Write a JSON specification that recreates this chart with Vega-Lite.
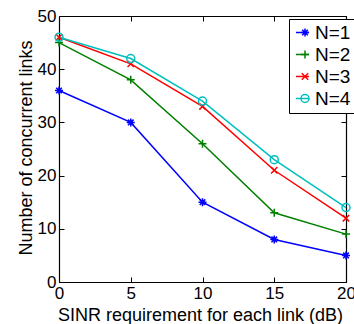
{
  "$schema": "https://vega.github.io/schema/vega-lite/v6.json",
  "width": 287,
  "height": 266,
  "autosize": {"type": "none"},
  "padding": {"left": 59, "top": 16, "right": 8, "bottom": 42},
  "background": "white",
  "config": {
    "view": {"stroke": null},
    "font": "Liberation Sans",
    "axis": {
      "grid": false,
      "domainColor": "black",
      "domainWidth": 1.2,
      "tickColor": "black",
      "tickWidth": 1,
      "labelColor": "black",
      "titleColor": "black",
      "labelFont": "Liberation Sans",
      "titleFont": "Liberation Sans",
      "labelFontSize": 17,
      "titleFontSize": 18,
      "titleFontWeight": "normal"
    }
  },
  "data": {
    "values": [
      {"N": "N=1", "sinr": 0, "links": 36},
      {"N": "N=1", "sinr": 5, "links": 30},
      {"N": "N=1", "sinr": 10, "links": 15},
      {"N": "N=1", "sinr": 15, "links": 8},
      {"N": "N=1", "sinr": 20, "links": 5},
      {"N": "N=2", "sinr": 0, "links": 45},
      {"N": "N=2", "sinr": 5, "links": 38},
      {"N": "N=2", "sinr": 10, "links": 26},
      {"N": "N=2", "sinr": 15, "links": 13},
      {"N": "N=2", "sinr": 20, "links": 9},
      {"N": "N=3", "sinr": 0, "links": 46},
      {"N": "N=3", "sinr": 5, "links": 41},
      {"N": "N=3", "sinr": 10, "links": 33},
      {"N": "N=3", "sinr": 15, "links": 21},
      {"N": "N=3", "sinr": 20, "links": 12},
      {"N": "N=4", "sinr": 0, "links": 46},
      {"N": "N=4", "sinr": 5, "links": 42},
      {"N": "N=4", "sinr": 10, "links": 34},
      {"N": "N=4", "sinr": 15, "links": 23},
      {"N": "N=4", "sinr": 20, "links": 14}
    ]
  },
  "layer": [
    {
      "mark": {"type": "line", "strokeWidth": 1.5},
      "encoding": {
        "x": {
          "field": "sinr", "type": "quantitative",
          "scale": {"domain": [0, 20], "nice": false, "zero": false},
          "axis": {
            "orient": "bottom",
            "values": [0, 5, 10, 15, 20],
            "tickSize": -5,
            "labelPadding": 8,
            "labelFlush": false,
            "labelOverlap": false,
            "title": "SINR requirement for each link (dB)",
            "titleBaseline": "alphabetic",
            "titleX": 141,
            "titleY": 38.5
          }
        },
        "y": {
          "field": "links", "type": "quantitative",
          "scale": {"domain": [0, 50], "nice": false},
          "axis": {
            "orient": "left",
            "values": [0, 10, 20, 30, 40, 50],
            "tickSize": -5,
            "labelPadding": 8,
            "labelFlush": false,
            "labelOverlap": false,
            "title": "Number of concurrent links",
            "titleBaseline": "alphabetic",
            "titleX": -28,
            "titleY": 131.5
          }
        },
        "color": {
          "field": "N", "type": "nominal",
          "scale": {"domain": ["N=1", "N=2", "N=3", "N=4"], "range": ["#0000FF", "#008000", "#FF0000", "#00BFBF"]},
          "legend": {
            "title": null,
            "orient": "none",
            "legendX": 230,
            "legendY": 3,
            "symbolType": "stroke",
            "symbolSize": 169,
            "symbolStrokeWidth": 1.5,
            "labelFontSize": 19,
            "labelFont": "Liberation Sans",
            "labelColor": "black",
            "labelOffset": 3,
            "rowPadding": 2,
            "padding": 4,
            "strokeColor": "black",
            "fillColor": "white",
            "cornerRadius": 0,
            "zindex": 0
          }
        }
      }
    },
    {
      "mark": {"type": "point", "filled": false, "strokeWidth": 1.5, "size": 64, "opacity": 1},
      "encoding": {
        "x": {
          "field": "sinr", "type": "quantitative",
          "axis": {"orient": "top", "values": [0, 5, 10, 15, 20], "tickSize": -5, "labels": false, "title": null}
        },
        "y": {
          "field": "links", "type": "quantitative",
          "axis": {"orient": "right", "values": [0, 10, 20, 30, 40, 50], "tickSize": -5, "labels": false, "title": null}
        },
        "stroke": {
          "field": "N", "type": "nominal",
          "scale": {"range": ["#0000FF", "#008000", "#FF0000", "#00BFBF"]},
          "legend": {
            "title": null,
            "orient": "none",
            "legendX": 232.5,
            "legendY": 3,
            "symbolSize": 64,
            "symbolStrokeWidth": 1.5,
            "labelFontSize": 19,
            "labelFont": "Liberation Sans",
            "labelColor": "black",
            "labelExpr": "''",
            "labelOffset": 3,
            "rowPadding": 2,
            "padding": 4,
            "zindex": 1
          }
        },
        "shape": {
          "field": "N", "type": "nominal",
          "scale": {"range": [
            "M-1,0L1,0M0,-1L0,1M-0.7,-0.7L0.7,0.7M-0.7,0.7L0.7,-0.7",
            "M-1,0L1,0M0,-1L0,1",
            "M-0.8,-0.8L0.8,0.8M-0.8,0.8L0.8,-0.8",
            "circle"
          ]}
        }
      }
    }
  ],
  "resolve": {"axis": {"x": "independent", "y": "independent"}}
}
